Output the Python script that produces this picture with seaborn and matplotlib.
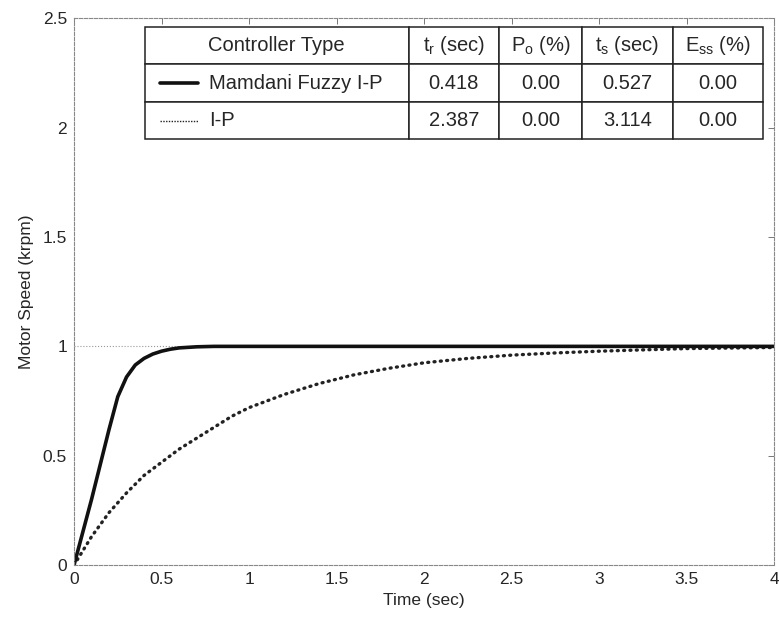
import matplotlib
matplotlib.use("Agg")
import matplotlib.pyplot as plt
import seaborn as sns
import pandas as pd
from matplotlib.lines import Line2D

# Step responses
t_fuzzy = [0, 0.05, 0.1, 0.15, 0.2, 0.25, 0.3, 0.35, 0.4, 0.45, 0.5, 0.55,
           0.6, 0.7, 0.8, 1.0, 2.0, 3.0, 4.0]
speed_fuzzy = [0, 0.15, 0.30, 0.46, 0.62, 0.77, 0.86, 0.915, 0.945, 0.965,
               0.978, 0.987, 0.993, 0.998, 1.0, 1.0, 1.0, 1.0, 1.0]

t_ip = [0, 0.1, 0.2, 0.3, 0.4, 0.5, 0.6, 0.7, 0.8, 0.9, 1.0, 1.2, 1.4, 1.6,
        1.8, 2.0, 2.25, 2.5, 2.75, 3.0, 3.5, 4.0]
speed_ip = [0, 0.13, 0.24, 0.33, 0.41, 0.47, 0.53, 0.58, 0.63, 0.68, 0.72,
            0.78, 0.83, 0.87, 0.90, 0.925, 0.945, 0.96, 0.97, 0.978, 0.99, 0.995]

# Table contents
col_labels = ["Controller Type", r"$\mathregular{t_r}$ (sec)",
              r"$\mathregular{P_o}$ (%)", r"$\mathregular{t_s}$ (sec)",
              r"$\mathregular{E_{ss}}$ (%)"]
controllers = ["Mamdani Fuzzy I-P", "I-P"]
rise_time = ["0.418", "2.387"]
overshoot = ["0.00", "0.00"]
settling_time = ["0.527", "3.114"]
ss_error = ["0.00", "0.00"]

sns.set_style("white")
plt.rcParams["font.family"] = ["Liberation Sans", "DejaVu Sans"]

fig = plt.figure(figsize=(7.79, 6.3), dpi=100)
ax = fig.add_axes([0.095, 0.103, 0.899, 0.868])

df_f = pd.DataFrame({"t": t_fuzzy, "v": speed_fuzzy})
df_i = pd.DataFrame({"t": t_ip, "v": speed_ip})

ax.axhline(1.0, color="#999999", lw=0.8, ls=":", zorder=1)
sns.lineplot(data=df_i, x="t", y="v", ax=ax, color="#222222", lw=2.4,
             linestyle=(0, (0.3, 1.6)), dash_capstyle="round")
sns.lineplot(data=df_f, x="t", y="v", ax=ax, color="#111111", lw=2.6)

ax.set_xlim(0, 4)
ax.set_ylim(0, 2.5)
ax.set_xticks([0, 0.5, 1, 1.5, 2, 2.5, 3, 3.5, 4])
ax.set_xticklabels(["0", "0.5", "1", "1.5", "2", "2.5", "3", "3.5", "4"])
ax.set_yticks([0, 0.5, 1, 1.5, 2, 2.5])
ax.set_yticklabels(["0", "0.5", "1", "1.5", "2", "2.5"])
ax.tick_params(direction="in", length=4, width=0.7, color="#777777",
               top=True, right=True, labelsize=12.5, pad=5)
for s in ax.spines.values():
    s.set_color("#888888")
    s.set_linewidth(0.8)
    s.set_linestyle((0, (3, 1.5)))
ax.set_xlabel("Time (sec)", fontsize=12.5)
ax.set_ylabel("Motor Speed (krpm)", fontsize=12.5, labelpad=6)

cells = [[controllers[i], rise_time[i], overshoot[i], settling_time[i], ss_error[i]]
         for i in range(len(controllers))]
tbl = ax.table(cellText=cells, colLabels=col_labels, cellLoc="center",
               colWidths=[0.427, 0.146, 0.134, 0.147, 0.146],
               bbox=[0.101, 0.779, 0.883, 0.205])
tbl.auto_set_font_size(False)
tbl.set_fontsize(14.5)
for (r, c), cell in tbl.get_celld().items():
    cell.set_edgecolor("#222222")
    cell.set_linewidth(1.1)
    cell.set_facecolor("white")
    if r > 0 and c == 0:
        cell.get_text().set_ha("left")
        cell.PAD = 0.245

# legend samples inside the first column
ax.add_line(Line2D([0.123, 0.177], [0.8815, 0.8815], transform=ax.transAxes,
                   color="#111111", lw=2.6, zorder=5))
ax.add_line(Line2D([0.123, 0.177], [0.813, 0.813], transform=ax.transAxes,
                   color="#222222", lw=1.0, ls=(0, (1, 1)), zorder=5))

fig.savefig("out.png", dpi=100)
